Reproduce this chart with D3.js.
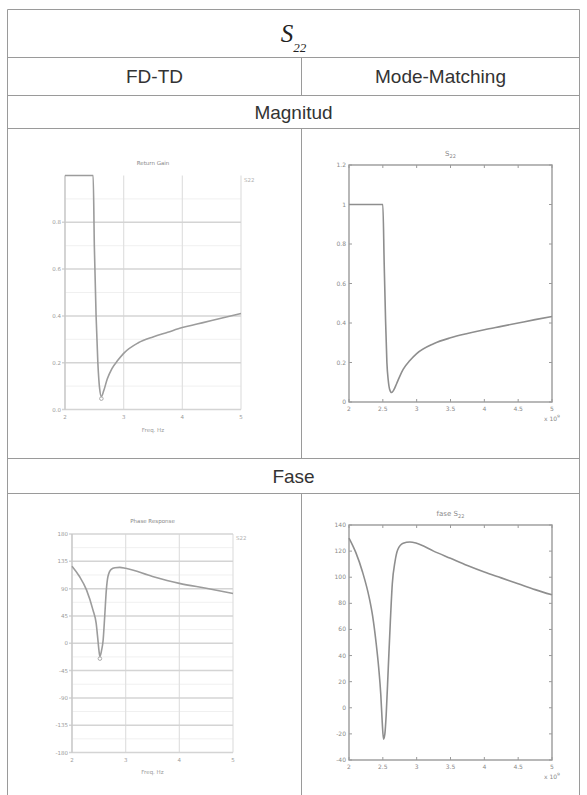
<!DOCTYPE html>
<html>
<head>
<meta charset="utf-8">
<script src="https://cdn.jsdelivr.net/npm/d3@7"></script>
<style>
  html, body { margin: 0; padding: 0; background: #fff; }
  svg { display: block; }
</style>
</head>
<body>
<script>
// ---- S22 data: FD-TD simulation vs. mode-matching, frequency in GHz ----
const freqMagFD = [2, 2.3, 2.48, 2.5, 2.53, 2.56, 2.59, 2.62, 2.66, 2.72, 2.8, 2.9, 3.0, 3.25, 3.5, 3.75, 4.0, 4.25, 4.5, 4.75, 5.0];
const magFD     = [1, 1, 1, 0.7, 0.4, 0.2, 0.09, 0.055, 0.08, 0.13, 0.175, 0.21, 0.24, 0.285, 0.31, 0.33, 0.35, 0.365, 0.38, 0.395, 0.41];

const freqMagMM = [2, 2.3, 2.5, 2.52, 2.54, 2.56, 2.58, 2.6, 2.63, 2.66, 2.7, 2.75, 2.8, 2.9, 3.0, 3.25, 3.5, 3.75, 4.0, 4.25, 4.5, 4.75, 5.0];
const magMM     = [1, 1, 1, 0.7, 0.42, 0.2, 0.11, 0.065, 0.048, 0.06, 0.09, 0.13, 0.165, 0.21, 0.245, 0.295, 0.325, 0.347, 0.366, 0.383, 0.4, 0.417, 0.433];

const freqPhaseFD = [2, 2.14, 2.27, 2.39, 2.45, 2.48, 2.5, 2.52, 2.55, 2.58, 2.61, 2.64, 2.67, 2.73, 2.8, 2.89, 3.0, 3.5, 4.0, 4.5, 5.0];
const phaseFD     = [127, 110, 88, 55, 33, 8, -10, -22, -12, 5, 45, 88, 110, 121.8, 124.5, 125, 123.5, 110, 98.7, 90.5, 82];

const freqPhaseMM = [2, 2.1, 2.2, 2.3, 2.35, 2.4, 2.44, 2.47, 2.49, 2.51, 2.53, 2.55, 2.58, 2.61, 2.64, 2.68, 2.72, 2.8, 2.9, 3.0, 3.25, 3.5, 3.75, 4.0, 4.25, 4.5, 4.75, 5.0];
const phaseMM     = [130, 119, 104, 84, 70, 50, 30, 10, -10, -24, -20, -5, 30, 65, 95, 112, 121, 126, 127, 126, 120, 114.5, 109, 104, 99.5, 95, 90.5, 86.5];

// ---- tick values ----
const xTicksFD = [2, 3, 4, 5];
const xTicksMM = [2, 2.5, 3, 3.5, 4, 4.5, 5];
const yTicksMagFD = [0, 0.2, 0.4, 0.6, 0.8];
const yTicksMagMM = [0, 0.2, 0.4, 0.6, 0.8, 1, 1.2];
const yTicksPhaseFD = [-180, -135, -90, -45, 0, 45, 90, 135, 180];
const yTicksPhaseMM = [-40, -20, 0, 20, 40, 60, 80, 100, 120, 140];

// ---- table text ----
const columnHeads = ["FD-TD", "Mode-Matching"];
const sectionHeads = ["Magnitud", "Fase"];

const W = 587, H = 795;
const svg = d3.select("body").append("svg").attr("width", W).attr("height", H);

// ---------- table frame ----------
const L = 7.5, R = 579.5, MID = 301.5;
const rowY = [9.5, 57.5, 95.5, 128.5, 458.5, 493.5];
const border = "#9a9a9a";
const frame = svg.append("g").attr("stroke", border).attr("stroke-width", 1).attr("fill", "none");
rowY.forEach(y => frame.append("line").attr("x1", L).attr("x2", R).attr("y1", y).attr("y2", y));
frame.append("line").attr("x1", L).attr("x2", L).attr("y1", rowY[0]).attr("y2", H);
frame.append("line").attr("x1", R).attr("x2", R).attr("y1", rowY[0]).attr("y2", H);
[[rowY[1], rowY[2]], [rowY[3], rowY[4]], [rowY[5], H]].forEach(([a, b]) =>
  frame.append("line").attr("x1", MID).attr("x2", MID).attr("y1", a).attr("y2", b));

const cx = (L + R) / 2;
const title = svg.append("text").attr("x", cx).attr("y", 42)
  .attr("text-anchor", "middle").attr("font-family", "Liberation Serif, serif")
  .attr("font-style", "italic").attr("fill", "#222");
title.append("tspan").attr("font-size", 25).text("S");
title.append("tspan").attr("font-size", 13).attr("dy", 10).text("22");

const headFont = "Liberation Sans, Arial, sans-serif";
[(L + MID) / 2, (MID + R) / 2].forEach((x, i) =>
  svg.append("text").attr("x", x).attr("y", 83).attr("text-anchor", "middle")
    .attr("font-family", headFont).attr("font-size", 19).attr("fill", "#333").text(columnHeads[i]));
[118.5, 483].forEach((y, i) =>
  svg.append("text").attr("x", cx).attr("y", y).attr("text-anchor", "middle")
    .attr("font-family", headFont).attr("font-size", 19).attr("fill", "#333").text(sectionHeads[i]));

// ---------- FD-TD style graph (gridded) ----------
function fdChart(o) {
  const g = svg.append("g");
  const x = d3.scaleLinear().domain([2, 5]).range([o.left, o.right]);
  const y = d3.scaleLinear().domain(o.yDomain).range([o.bottom, o.top]);
  // minor horizontal grid
  o.yMinor.forEach(v => g.append("line").attr("x1", o.left).attr("x2", o.right).attr("y1", y(v)).attr("y2", y(v))
    .attr("stroke", "#f0f0f0").attr("stroke-width", 1));
  // major grid
  xTicksFD.forEach(v => g.append("line").attr("x1", x(v)).attr("x2", x(v)).attr("y1", o.top).attr("y2", o.bottom)
    .attr("stroke", "#e0e0e0").attr("stroke-width", 1.2));
  o.yTicks.forEach(v => g.append("line").attr("x1", o.left - 3).attr("x2", o.right).attr("y1", y(v)).attr("y2", y(v))
    .attr("stroke", "#d4d4d4").attr("stroke-width", 1.5));
  g.append("line").attr("x1", o.left).attr("x2", o.left).attr("y1", o.top).attr("y2", o.bottom)
    .attr("stroke", "#c4c4c4").attr("stroke-width", 1.2);
  // labels
  const lab = g.append("g").attr("font-family", "DejaVu Sans, sans-serif").attr("font-size", 5.5).attr("fill", "#9a9a9a");
  o.yTicks.forEach(v => lab.append("text").attr("x", o.left - 4).attr("y", y(v) + 2)
    .attr("text-anchor", "end").text(o.yFmt(v)));
  xTicksFD.forEach(v => lab.append("text").attr("x", x(v)).attr("y", o.bottom + 9)
    .attr("text-anchor", "middle").text(v));
  lab.append("text").attr("x", (o.left + o.right) / 2).attr("y", o.xTitleY).attr("text-anchor", "middle").text("Freq. Hz");
  lab.append("text").attr("x", (o.left + o.right) / 2).attr("y", o.top - 11).attr("text-anchor", "middle")
    .attr("fill", "#888").text(o.title);
  lab.append("text").attr("x", o.right + 3).attr("y", o.top + 6).attr("fill", "#b0b0b0").text(o.legend);
  // curve
  const line = d3.line().x(d => x(d[0])).y(d => y(d[1])).curve(d3.curveMonotoneX);
  const pts = o.xs.map((v, i) => [v, o.ys[i]]);
  g.append("path").datum(pts).attr("d", line).attr("fill", "none")
    .attr("stroke", "#9c9c9c").attr("stroke-width", 1.6);
  // cursor at the minimum
  const m = pts.reduce((a, b) => (b[1] < a[1] ? b : a));
  g.append("circle").attr("cx", x(m[0])).attr("cy", y(m[1]) + 2).attr("r", 1.8)
    .attr("fill", "none").attr("stroke", "#aaa").attr("stroke-width", 1);
}

fdChart({
  left: 65, right: 241, top: 175.5, bottom: 409.5, yDomain: [0, 1],
  yTicks: yTicksMagFD, yMinor: d3.range(0.1, 1, 0.2), yFmt: d3.format(".1f"),
  xs: freqMagFD, ys: magFD, title: "Return Gain", legend: "S22", xTitleY: 432
});
fdChart({
  left: 72, right: 233, top: 534, bottom: 752.5, yDomain: [-180, 180],
  yTicks: yTicksPhaseFD, yMinor: d3.range(-157.5, 180, 45), yFmt: d => d,
  xs: freqPhaseFD, ys: phaseFD, title: "Phase Response", legend: "S22", xTitleY: 774
});

// ---------- Mode-Matching style graph (boxed, inward ticks) ----------
function mmChart(o) {
  const g = svg.append("g");
  const x = d3.scaleLinear().domain([2, 5]).range([o.left, o.right]);
  const y = d3.scaleLinear().domain(o.yDomain).range([o.bottom, o.top]);
  const ax = "#9a9a9a";
  g.append("rect").attr("x", o.left).attr("y", o.top).attr("width", o.right - o.left).attr("height", o.bottom - o.top)
    .attr("fill", "none").attr("stroke", ax).attr("stroke-width", 1.4);
  const tk = 3;
  xTicksMM.forEach(v => {
    g.append("line").attr("x1", x(v)).attr("x2", x(v)).attr("y1", o.bottom).attr("y2", o.bottom - tk).attr("stroke", ax);
    g.append("line").attr("x1", x(v)).attr("x2", x(v)).attr("y1", o.top).attr("y2", o.top + tk).attr("stroke", ax);
  });
  o.yTicks.forEach(v => {
    g.append("line").attr("x1", o.left).attr("x2", o.left + tk).attr("y1", y(v)).attr("y2", y(v)).attr("stroke", ax);
    g.append("line").attr("x1", o.right).attr("x2", o.right - tk).attr("y1", y(v)).attr("y2", y(v)).attr("stroke", ax);
  });
  const lab = g.append("g").attr("font-family", "DejaVu Sans, sans-serif").attr("font-size", 6).attr("fill", "#8a8a8a");
  o.yTicks.forEach(v => lab.append("text").attr("x", o.left - 3).attr("y", y(v) + 2)
    .attr("text-anchor", "end").text(v));
  xTicksMM.forEach(v => lab.append("text").attr("x", x(v)).attr("y", o.bottom + 9)
    .attr("text-anchor", "middle").text(v));
  const ex = lab.append("text").attr("x", o.right - 8).attr("y", o.bottom + 19);
  ex.append("tspan").text("x 10");
  ex.append("tspan").attr("dy", -3).attr("font-size", 4.5).text("9");
  const t = lab.append("text").attr("x", (o.left + o.right) / 2).attr("y", o.top - 9)
    .attr("text-anchor", "middle").attr("font-size", 7);
  t.append("tspan").text(o.titlePrefix + "S");
  t.append("tspan").attr("dy", 2).attr("font-size", 5).text("22");
  const line = d3.line().x(d => x(d[0])).y(d => y(d[1])).curve(d3.curveMonotoneX);
  g.append("path").datum(o.xs.map((v, i) => [v, o.ys[i]])).attr("d", line).attr("fill", "none")
    .attr("stroke", "#8e8e8e").attr("stroke-width", 1.6);
}

mmChart({
  left: 349, right: 552, top: 165, bottom: 402, yDomain: [0, 1.2],
  yTicks: yTicksMagMM, xs: freqMagMM, ys: magMM, titlePrefix: ""
});
mmChart({
  left: 349, right: 552, top: 525, bottom: 760, yDomain: [-40, 140],
  yTicks: yTicksPhaseMM, xs: freqPhaseMM, ys: phaseMM, titlePrefix: "fase "
});
</script>
</body>
</html>
